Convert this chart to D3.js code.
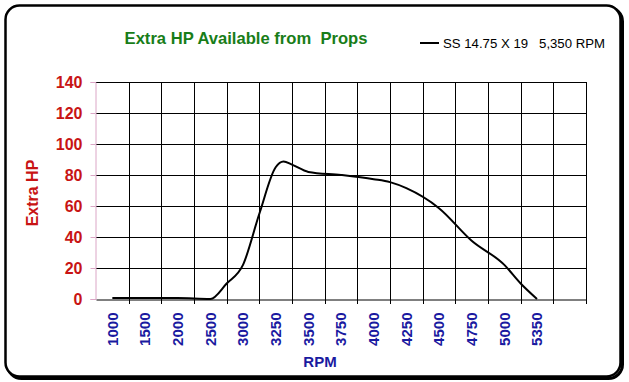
<!DOCTYPE html>
<html>
<head>
<meta charset="utf-8">
<script src="https://cdn.jsdelivr.net/npm/d3@7"></script>
<style>
  body { margin: 0; background: #fff; }
  svg text { font-family: Arial, "Liberation Sans", sans-serif; }
</style>
</head>
<body>
<div id="chart"></div>
<script>
// category labels on the x axis (one blank band at the end, like the original)
const rpmLabels = ["1000", "1500", "2000", "2500", "3000", "3250", "3500", "3750",
  "4000", "4250", "4500", "4750", "5000", "5350"];
const yTicks = [0, 20, 40, 60, 80, 100, 120, 140];

// curve: rpm -> extra hp
const lineRpm = [1000, 1500, 2000, 2500, 2750, 3000, 3125, 3250, 3310, 3375, 3500,
  3750, 4000, 4125, 4250, 4500, 4750, 5000, 5175, 5350];
const lineHp = [0.6, 0.6, 0.6, 0, 10, 22, 55, 85, 88.7, 86.7, 82,
  80, 77.3, 75.4, 71.5, 58.6, 37.6, 22, 10, 0];

const seriesName = "SS 14.75 X 19   5,350 RPM";

const width = 629;
const height = 382;
const margin = { top: 82, right: 43, bottom: 83, left: 96 };

const svg = d3
  .select("#chart")
  .append("svg")
  .attr("width", width)
  .attr("height", height);

// frame with shadow
svg
  .append("rect")
  .attr("x", 7.5)
  .attr("y", 7.5)
  .attr("width", 615)
  .attr("height", 371)
  .attr("rx", 14)
  .attr("fill", "none")
  .attr("stroke", "#000")
  .attr("stroke-width", 3);
svg
  .append("rect")
  .attr("x", 5.5)
  .attr("y", 5.5)
  .attr("width", 615)
  .attr("height", 371)
  .attr("rx", 14)
  .attr("fill", "#fff")
  .attr("stroke", "#000")
  .attr("stroke-width", 2.5);

const x = d3
  .scaleBand()
  .domain(rpmLabels.concat([""]))
  .range([margin.left, width - margin.right])
  .padding(0);

const y = d3
  .scaleLinear()
  .domain([0, 140])
  .range([height - margin.bottom, margin.top]);

// rpm -> x position, piecewise through the band centres
const xr = d3
  .scaleLinear()
  .domain(rpmLabels.map(Number))
  .range(rpmLabels.map((d) => x(d) + x.bandwidth() / 2));

// horizontal grid
svg
  .append("g")
  .selectAll("line")
  .data(yTicks.filter((d) => d > 0))
  .join("line")
  .attr("x1", margin.left)
  .attr("x2", width - margin.right)
  .attr("y1", (d) => Math.round(y(d)) + 0.5)
  .attr("y2", (d) => Math.round(y(d)) + 0.5)
  .attr("stroke", "#000");

// vertical grid / tick lines at band edges
const edges = x.domain().slice(1).map((d) => x(d)).concat([width - margin.right]);
svg
  .append("g")
  .selectAll("line")
  .data(edges)
  .join("line")
  .attr("x1", (d) => Math.round(d) + 0.5)
  .attr("x2", (d) => Math.round(d) + 0.5)
  .attr("y1", margin.top)
  .attr("y2", height - margin.bottom + 5)
  .attr("stroke", "#000");

// y axis
const yAxis = svg
  .append("g")
  .attr("transform", `translate(${margin.left - 0.5},0)`)
  .call(d3.axisLeft(y).tickValues(yTicks).tickSize(5).tickPadding(8));
yAxis.select(".domain").attr("stroke", "#dba6c6");
yAxis.selectAll(".tick line").attr("stroke", "#dba6c6");
yAxis
  .selectAll(".tick text")
  .attr("fill", "#c81414")
  .attr("font-size", "16px")
  .attr("font-weight", "bold")
  .attr("font-family", "Arial, 'Liberation Sans', sans-serif");

// x axis
const xAxis = svg
  .append("g")
  .attr("transform", `translate(0,${Math.round(y(0)) + 0.5})`)
  .call(d3.axisBottom(x).tickSize(0).tickPadding(0));
xAxis.select(".domain").attr("stroke", "#000");
xAxis
  .selectAll(".tick text")
  .attr("fill", "#1a1aa0")
  .attr("font-size", "15px")
  .attr("font-weight", "bold")
  .attr("font-family", "Arial, 'Liberation Sans', sans-serif")
  .attr("text-anchor", "end")
  .attr("dy", "0.35em")
  .attr("transform", "translate(0,13) rotate(-90)");

// the series
const line = d3
  .line()
  .x((d, i) => xr(lineRpm[i]))
  .y((d) => y(d))
  .curve(d3.curveMonotoneX);

svg
  .append("path")
  .datum(lineHp)
  .attr("fill", "none")
  .attr("stroke", "#000")
  .attr("stroke-width", 2)
  .attr("d", line);

// titles
svg
  .append("text")
  .attr("x", 246)
  .attr("y", 44)
  .attr("text-anchor", "middle")
  .attr("fill", "#187d18")
  .attr("font-size", "16.6px")
  .attr("font-weight", "bold")
  .style("white-space", "pre")
  .text("Extra HP Available from  Props");

svg
  .append("text")
  .attr("transform", "translate(38,193) rotate(-90)")
  .attr("text-anchor", "middle")
  .attr("fill", "#c81414")
  .attr("font-size", "16px")
  .attr("font-weight", "bold")
  .text("Extra HP");

svg
  .append("text")
  .attr("x", 320)
  .attr("y", 367)
  .attr("text-anchor", "middle")
  .attr("fill", "#1a1aa0")
  .attr("font-size", "15px")
  .attr("font-weight", "bold")
  .text("RPM");

// legend
const legend = svg.append("g").attr("transform", "translate(420,43)");
legend
  .append("line")
  .attr("x1", 0)
  .attr("x2", 19)
  .attr("stroke", "#000")
  .attr("stroke-width", 2);
legend
  .append("text")
  .attr("x", 23)
  .attr("y", 4.5)
  .attr("fill", "#000")
  .attr("font-size", "13.2px")
  .style("white-space", "pre")
  .text(seriesName);
</script>
</body>
</html>
